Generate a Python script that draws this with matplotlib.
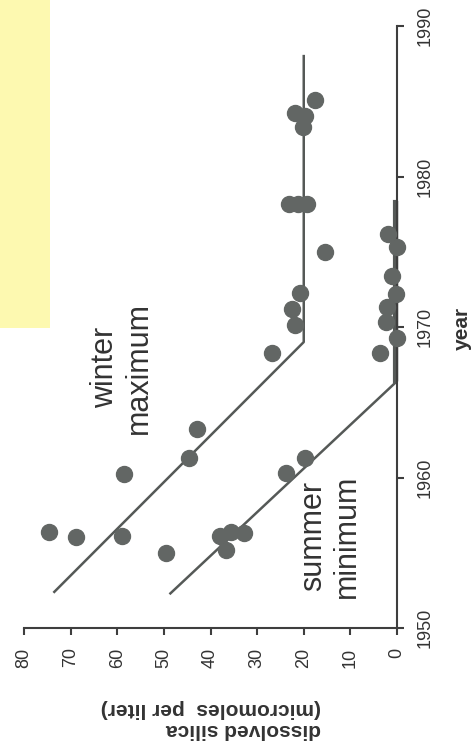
import matplotlib
matplotlib.use("Agg")
import matplotlib.pyplot as plt
from matplotlib.patches import Rectangle

plt.rcParams['font.family'] = ['Liberation Sans', 'DejaVu Sans']

# Datos (silice disuelta, micromoles por litro)
winter_years = [1956.35, 1956.05, 1956.1, 1960.2, 1961.3, 1963.25, 1968.3, 1970.1,
                1971.2, 1972.25, 1975.0, 1978.2, 1978.2, 1978.2, 1983.3, 1984.0,
                1984.2, 1985.1]
winter_vals = [74.6, 68.9, 59.0, 58.6, 44.7, 43.0, 26.8, 21.9,
               22.5, 20.7, 15.5, 23.1, 21.2, 19.4, 20.1, 19.7,
               21.8, 17.5]

summer_years = [1955.0, 1955.2, 1956.1, 1956.4, 1956.3, 1960.3, 1961.3, 1968.3,
                1969.3, 1970.3, 1971.3, 1972.2, 1973.4, 1975.3, 1976.2]
summer_vals = [49.6, 36.6, 38.0, 35.7, 32.9, 23.9, 19.7, 3.6,
               0.0, 2.4, 2.2, 0.2, 1.1, 0.0, 1.9]

# Lineas de tendencia (quiebre)
winter_fit_years = [1952.4, 1969.0, 1988.0]
winter_fit_vals = [73.5, 20.0, 20.0]
summer_fit_years = [1952.3, 1966.4, 1978.3]
summer_fit_vals = [48.6, 0.0, 0.0]

silica_ticks = [0, 10, 20, 30, 40, 50, 60, 70, 80]
year_ticks = [1950, 1960, 1970, 1980, 1990]

gray = '#626664'
line_gray = '#555957'
axis_gray = '#3e3e3e'

fig = plt.figure(figsize=(4.74, 7.55), dpi=100)
fig.patch.set_facecolor('white')

# Marca amarilla de resaltador
fig.patches.append(Rectangle((0, 1 - 328 / 755), 50 / 474, 328 / 755,
                             transform=fig.transFigure, facecolor='#fdf9b0',
                             edgecolor='none', zorder=0))

ax = fig.add_axes([24 / 474, 1 - 628 / 755, (397 - 24) / 474, (628 - 26) / 755])
ax.patch.set_alpha(0)

# Grafico girado: silice en horizontal (invertido), año en vertical
ax.plot(winter_fit_vals, winter_fit_years, color=line_gray, lw=1.8, clip_on=False)
ax.plot(summer_fit_vals, summer_fit_years, color=line_gray, lw=1.8, clip_on=False)
ax.plot([0.5, 0.5], summer_fit_years[1:], color=line_gray, lw=3, clip_on=False)

ax.plot(winter_vals, winter_years, marker='o', linestyle='', color=gray,
        markersize=11.5, clip_on=False, zorder=3)
ax.plot(summer_vals, summer_years, marker='o', linestyle='', color=gray,
        markersize=11.5, clip_on=False, zorder=3)

ax.set_xlim(80, 0)
ax.set_ylim(1950, 1990)

ax.spines['left'].set_visible(False)
ax.spines['top'].set_visible(False)
ax.spines['bottom'].set_bounds(0, 80)
ax.spines['right'].set_bounds(1950, 1990)
for s in ['bottom', 'right']:
    ax.spines[s].set_color(axis_gray)
    ax.spines[s].set_linewidth(1.5)

ax.set_xticks(silica_ticks)
ax.set_xticklabels([str(t) for t in silica_ticks], rotation=90)
ax.yaxis.tick_right()
ax.set_yticks(year_ticks)
ax.set_yticklabels([str(t) for t in year_ticks], rotation=90, va='center')
ax.tick_params(axis='both', colors=axis_gray, labelcolor='#333333',
               labelsize=13, length=5, width=1.5, pad=9)

# Etiquetas de texto
ax.text(59, 1967.3, 'winter\nmaximum', rotation=90, ha='center', va='center',
        fontsize=22, color='#333333', linespacing=1.15)
ax.text(14.4, 1956.1, 'summer\nminimum', rotation=90, ha='center', va='center',
        fontsize=22, color='#333333', linespacing=1.15)

fig.text(211 / 474, 1 - 719 / 755, 'dissolved silica\n(micromoles  per liter)',
         rotation=180, ha='center', va='center', multialignment='left',
         fontsize=15, fontweight='bold', color='#333333', linespacing=1.1)
fig.text(462 / 474, 1 - 328 / 755, 'year', rotation=90, ha='center', va='center',
         fontsize=15, fontweight='bold', color='#333333')

fig.savefig('out.png', dpi=100)
